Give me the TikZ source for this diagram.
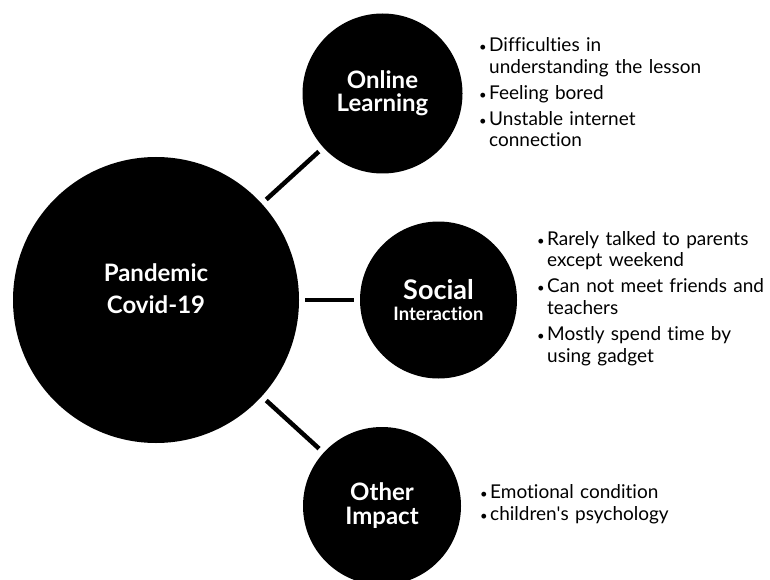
\documentclass[tikz,border=0pt]{standalone}
\usepackage{fontspec}
\setmainfont{Lato}[Ligatures=NoCommon]
\newcommand{\listfont}{\fontsize{19}{21.8}\selectfont\setlength{\parskip}{4pt}}
\newcommand{\bulletitem}[1]{\hangindent=10pt\hangafter=1\noindent
    \makebox[10pt][l]{\fontsize{13}{13}\selectfont\textbullet}#1\par}
\tikzset{hubcircle/.style={circle,fill=black,minimum size=286pt,inner sep=0},
    subcircle/.style={circle,fill=black,minimum size=160pt,inner sep=0,text=white,align=center,
        font=\bfseries\fontsize{24}{23}\selectfont},
    hubtext/.style={text=white,align=center,font=\bfseries\fontsize{24}{32}\selectfont,yshift=11pt},
    link/.style={line width=4.5pt,shorten <=6pt,shorten >=6pt},
    bulletlist/.style={anchor=north west,inner sep=0,text width=280pt,align=left,font=\listfont}
}

\begin{document}
\begin{tikzpicture}[x=1pt,y=-1pt]

\useasboundingbox (0,0) rectangle (770,580);

\node [hubcircle,label={[hubtext]center:{Pandemic\\Covid-19}}] (covid) at (156,300) {};

\node [subcircle] (online) at (382.5,93.5) {Online\\Learning};
\node [subcircle,minimum size=157pt] (social) at (438.5,300)
    {{\fontsize{27}{24}\selectfont Social}\\[-2pt]{\fontsize{18.5}{18}\selectfont Interaction}};
\node [subcircle,minimum size=158pt] (other) at (382,506) {Other\\[1pt]Impact};

\foreach \sub in {online,social,other}
    \draw [link] (covid) -- (\sub);

% effects listed beside each circle
\node [bulletlist] (onlinelist) at (479,37.5) {
    \bulletitem{Difficulties in\newline understanding the lesson}
    \bulletitem{Feeling bored}
    \bulletitem{Unstable internet\newline connection}};

\node [bulletlist] (sociallist) at (537,231) {
    \bulletitem{Rarely talked to parents\newline except weekend}
    \bulletitem{Can not meet friends and\newline teachers}
    \bulletitem{Mostly spend time by\newline using gadget}};

\node [bulletlist] (otherlist) at (480,484.5) {\setlength{\parskip}{0pt}%
    \bulletitem{Emotional condition}
    \bulletitem{children\textquotesingle s psychology}};

\end{tikzpicture}
\end{document}
